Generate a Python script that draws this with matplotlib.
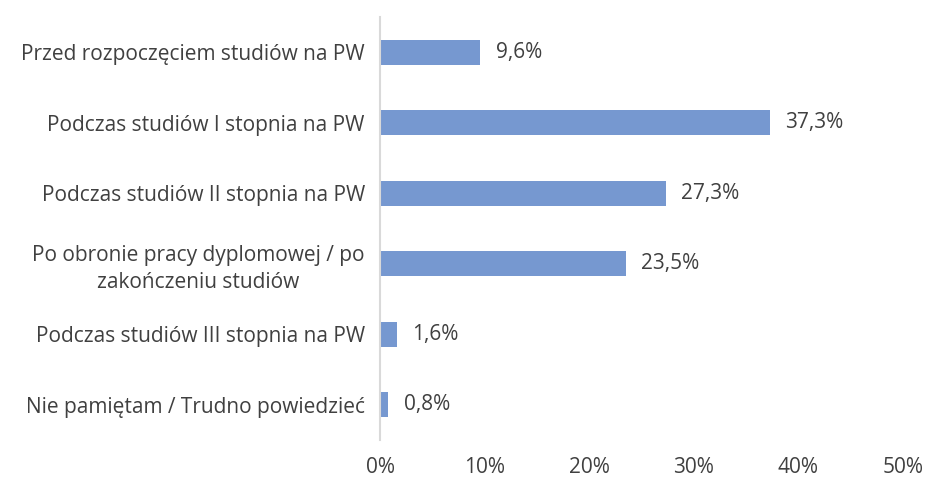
import matplotlib.pyplot as plt
from matplotlib.ticker import FuncFormatter

categories = [
    "Przed rozpoczęciem studiów na PW",
    "Podczas studiów I stopnia na PW",
    "Podczas studiów II stopnia na PW",
    "Po obronie pracy dyplomowej / po\nzakończeniu studiów",
    "Podczas studiów III stopnia na PW",
    "Nie pamiętam / Trudno powiedzieć",
]
values = [9.6, 37.3, 27.3, 23.5, 1.6, 0.8]
x_ticks = [0, 10, 20, 30, 40, 50]

text_color = "#404040"
bar_color = "#7698D0"

plt.rcParams["font.family"] = ["Open Sans", "DejaVu Sans"]
fs = 15

fig = plt.figure(figsize=(9.27, 4.79), dpi=100)
ax = fig.add_axes([0.41, 0.0814, 0.564, 0.883])

y = list(range(len(categories)))
ax.barh(y, values, height=0.355, color=bar_color)

for yi, v in zip(y, values):
    ax.annotate(f"{v:.1f}%".replace(".", ","), (v, yi), xytext=(11, 0),
                textcoords="offset points", va="center", ha="left",
                fontsize=fs, color=text_color)

ax.set_ylim(len(categories) - 0.5, -0.5)
ax.set_xlim(0, 50)
ax.set_xticks(x_ticks)
ax.xaxis.set_major_formatter(FuncFormatter(lambda v, p: f"{v:.0f}%"))
ax.set_yticks(y)
ax.set_yticklabels(categories, multialignment="center", linespacing=1.35)

for s in ["top", "right", "bottom"]:
    ax.spines[s].set_visible(False)
ax.spines["left"].set_color("#D9D9D9")
ax.spines["left"].set_linewidth(1.5)

ax.tick_params(axis="both", length=0, labelsize=fs, labelcolor=text_color)
ax.tick_params(axis="x", pad=12)
ax.tick_params(axis="y", pad=11)

fig.savefig("out.png", dpi=100)
